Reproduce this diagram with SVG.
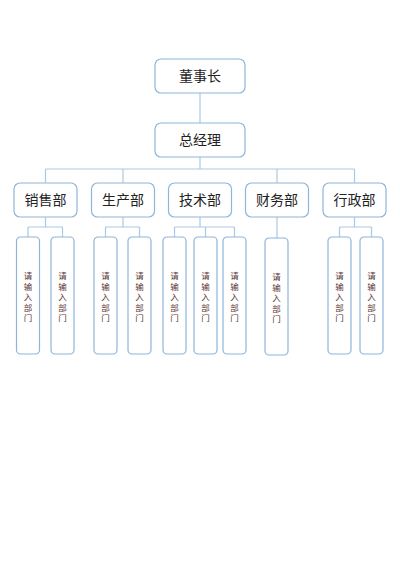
<svg xmlns="http://www.w3.org/2000/svg" width="400" height="565" viewBox="0 0 400 565">
<style>
.box{fill:#fff;stroke:#8fb5da;stroke-width:1.2}
.ln{fill:none;stroke:#a9c9e4;stroke-width:1.2}
.t{font-family:"Noto Sans CJK SC","Noto Sans",sans-serif;font-size:14px;fill:#222;text-anchor:middle}
.s{font-family:"Noto Sans CJK SC","Noto Sans",sans-serif;font-size:8.5px;fill:#5a3535;text-anchor:middle}
</style>
<rect width="400" height="565" fill="#fff"/>
<g id="connectors">
<path class="ln" d="M200 93V123M200 157V169M45.5 169H354.5M45.5 169V183M123 169V183M277 169V183M354.5 169V183"/>
<path class="ln" d="M45.5 217V227M28 227H62.5M28 227V237M62.5 227V237"/>
<path class="ln" d="M123 217V227M105.5 227H139.5M105.5 227V237M139.5 227V237"/>
<path class="ln" d="M200 217V227M174.5 227H234.5M174.5 227V237M205.5 227V237M234.5 227V237"/>
<path class="ln" d="M277 217V238"/>
<path class="ln" d="M354.5 217V227M339.5 227H371.5M339.5 227V237M371.5 227V237"/>
</g>
<g id="n-chairman"><rect class="box" x="155" y="59" width="90" height="34" rx="6"/><text class="t" x="200" y="81">董事长</text></g>
<g id="n-gm"><rect class="box" x="155" y="123" width="90" height="34" rx="6"/><text class="t" x="200" y="145">总经理</text></g>
<g id="n-sales"><rect class="box" x="14" y="183" width="63" height="34" rx="6"/><text class="t" x="45.5" y="205">销售部</text></g>
<g id="n-prod"><rect class="box" x="91.5" y="183" width="63" height="34" rx="6"/><text class="t" x="123" y="205">生产部</text></g>
<g id="n-tech"><rect class="box" x="168.5" y="183" width="63" height="34" rx="6"/><text class="t" x="200" y="205">技术部</text></g>
<g id="n-fin"><rect class="box" x="245.5" y="183" width="63" height="34" rx="6"/><text class="t" x="277" y="205">财务部</text></g>
<g id="n-admin"><rect class="box" x="323" y="183" width="63" height="34" rx="6"/><text class="t" x="354.5" y="205">行政部</text></g>
<defs>
<g id="sub">
<rect class="box" x="-11.5" y="0" width="23" height="117" rx="4"/>
<text class="s" x="0" y="42">请</text>
<text class="s" x="0" y="52.5">输</text>
<text class="s" x="0" y="63">入</text>
<text class="s" x="0" y="73.5">部</text>
<text class="s" x="0" y="84">门</text>
</g>
</defs>
<g id="n-s1"><use href="#sub" x="28" y="237"/></g>
<g id="n-s2"><use href="#sub" x="62.5" y="237"/></g>
<g id="n-p1"><use href="#sub" x="105.5" y="237"/></g>
<g id="n-p2"><use href="#sub" x="139.5" y="237"/></g>
<g id="n-t1"><use href="#sub" x="174.5" y="237"/></g>
<g id="n-t2"><use href="#sub" x="205.5" y="237"/></g>
<g id="n-t3"><use href="#sub" x="234.5" y="237"/></g>
<g id="n-f1"><use href="#sub" x="276.5" y="238"/></g>
<g id="n-a1"><use href="#sub" x="339.5" y="237"/></g>
<g id="n-a2"><use href="#sub" x="371.5" y="237"/></g>
</svg>
